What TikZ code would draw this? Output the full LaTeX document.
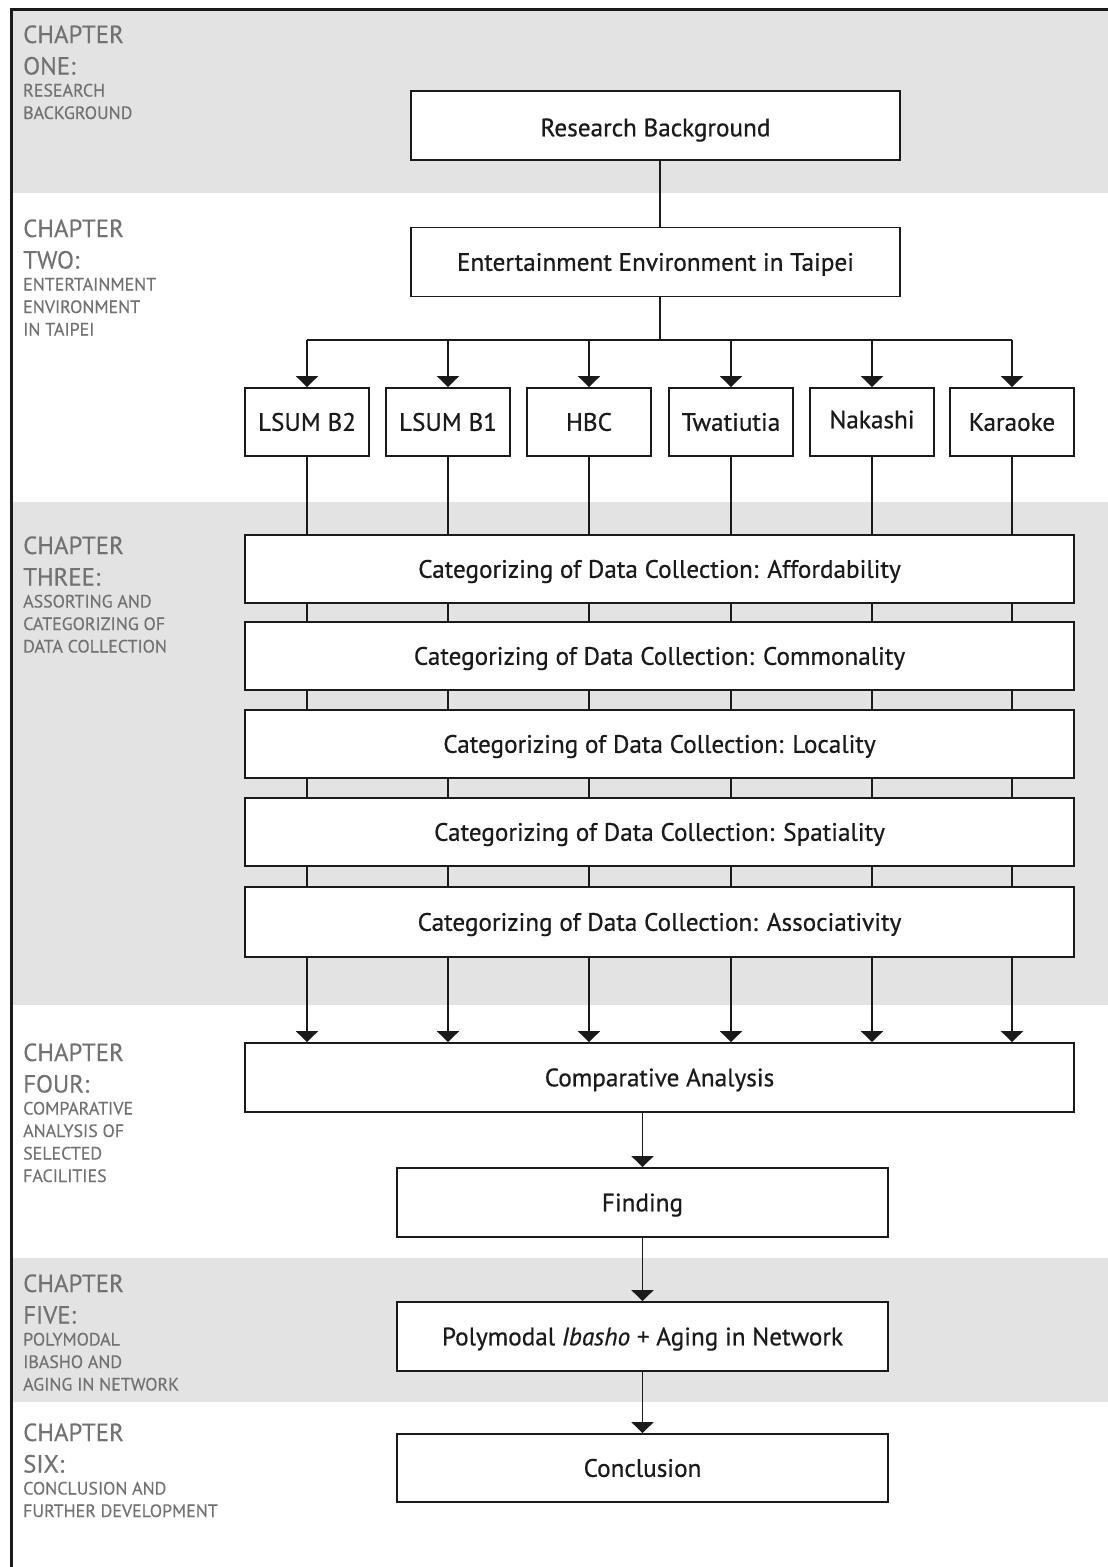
\documentclass[tikz,border=0pt]{standalone}
\usepackage{fontspec}
\setmainfont{PT Sans}
\newfontfamily\boxfont{PT Sans}[FakeBold=0.6]
\newfontfamily\chapfont{PT Sans}[FakeBold=0.3]
\usetikzlibrary{arrows.meta}
\definecolor{bandgray}{HTML}{E3E3E3}
\definecolor{chapgray}{HTML}{727272}
\definecolor{ink}{HTML}{1A1A1A}
\newcommand\chapterlabel[4]{%
  \node[chapbig] (#1a) at (23,#2) {CHAPTER};
  \node[chapbig] (#1b) at (23,#2+31.5) {#3};
  \foreach \t [count=\i] in {#4} \node[chapsmall] (#1s\i) at (23,#2+31+22.5*\i) {\t};
}
\begin{document}
\begin{tikzpicture}[x=1pt,y=-1pt,
  chapbig/.style={anchor=base west, inner sep=0pt, text=chapgray, font=\chapfont\fontsize{24.8}{28}\selectfont},
  chapsmall/.style={anchor=base west, inner sep=0pt, text=chapgray, font=\chapfont\fontsize{17.9}{21}\selectfont},
  box/.style={draw=ink, line width=1.8pt, fill=white, inner sep=0pt, text=ink,
    text height=17.6pt, text depth=0pt, font=\boxfont\fontsize{25.2}{29}\selectfont},
  bigbox/.style={box, minimum width=489pt, minimum height=69pt},
  smallbox/.style={box, minimum width=124pt, minimum height=68pt},
  catbox/.style={box, minimum width=829pt, minimum height=68pt},
  link/.style={draw=ink, line width=1.8pt},
  arr/.style={link, -{Triangle[width=22pt,length=11pt]}},
  frame/.style={draw=ink, line width=2.6pt}
]
\useasboundingbox (0,0) rectangle (1108,1567);
% bands
\fill[bandgray] (11,9) rectangle (1108,193);
\fill[bandgray] (11,502) rectangle (1108,1005);
\fill[bandgray] (11,1258) rectangle (1108,1402);
\draw[frame] (1108,9.3) -- (11.3,9.3) -- (11.3,1567);
% chapter labels
\chapterlabel{one}{43}{ONE:}{RESEARCH,BACKGROUND}
\chapterlabel{two}{237}{TWO:}{ENTERTAINMENT,ENVIRONMENT,IN TAIPEI}
\chapterlabel{three}{554}{THREE:}{ASSORTING AND,CATEGORIZING OF,DATA COLLECTION}
\chapterlabel{four}{1061}{FOUR:}{COMPARATIVE,ANALYSIS OF,SELECTED,FACILITIES}
\chapterlabel{five}{1292}{FIVE:}{POLYMODAL,IBASHO AND,AGING IN NETWORK}
\chapterlabel{six}{1441}{SIX:}{CONCLUSION AND,FURTHER DEVELOPMENT}
% boxes
\node[bigbox] (rb) at (655.5,125.5) {\raisebox{-2pt}{Research Background}};
\node[bigbox] (ee) at (655.5,262) {Entertainment Environment in Taipei};
\node[smallbox] (s1) at (307,422) {LSUM B2};
\node[smallbox] (s2) at (448,422) {LSUM B1};
\node[smallbox] (s3) at (589,422) {HBC};
\node[smallbox] (s4) at (731,422) {Twatiutia};
\node[smallbox] (s5) at (872,422) {\raisebox{2.5pt}{Nakashi}};
\node[smallbox] (s6) at (1012,422) {Karaoke};
\node[catbox] (c1) at (659.5,569) {Categorizing of Data Collection: Affordability};
\node[catbox] (c2) at (659.5,656) {Categorizing of Data Collection: Commonality};
\node[catbox] (c3) at (659.5,744) {Categorizing of Data Collection: Locality};
\node[catbox] (c4) at (659.5,832) {Categorizing of Data Collection: Spatiality};
\node[catbox, minimum height=70pt] (c5) at (659.5,922) {Categorizing of Data Collection: Associativity};
\node[catbox, minimum height=69pt] (ca) at (659.5,1077.5) {Comparative Analysis};
\node[bigbox, minimum width=491pt] (fi) at (642.5,1202.5) {Finding};
\node[bigbox, minimum width=491pt] (pm) at (642.5,1336.5) {Polymodal \textit{Ibasho} + Aging in Network};
\node[bigbox, minimum width=491pt, minimum height=68pt] (co) at (642.5,1468) {Conclusion};
% connectors
\coordinate (bus) at (660,340);
\draw[link] (rb.south -| bus) -- (ee.north -| bus);
\draw[link] (ee.south -| bus) -- (bus);
\draw[link] (s1.north |- bus) -- (s6.north |- bus);
\foreach \s in {s1,s2,s3,s4,s5,s6}{
  \draw[arr] (\s.north |- bus) -- (\s.north);
  \draw[link] (\s.south) -- (c1.north -| \s);
  \draw[link] (c1.south -| \s) -- (c2.north -| \s);
  \draw[link] (c2.south -| \s) -- (c3.north -| \s);
  \draw[link] (c3.south -| \s) -- (c4.north -| \s);
  \draw[link] (c4.south -| \s) -- (c5.north -| \s);
  \draw[arr] (c5.south -| \s) -- (ca.north -| \s);
}
\draw[arr] (ca.south -| fi) -- (fi.north);
\draw[arr] (fi.south) -- (pm.north);
\draw[arr] (pm.south) -- (co.north);
\end{tikzpicture}
\end{document}
